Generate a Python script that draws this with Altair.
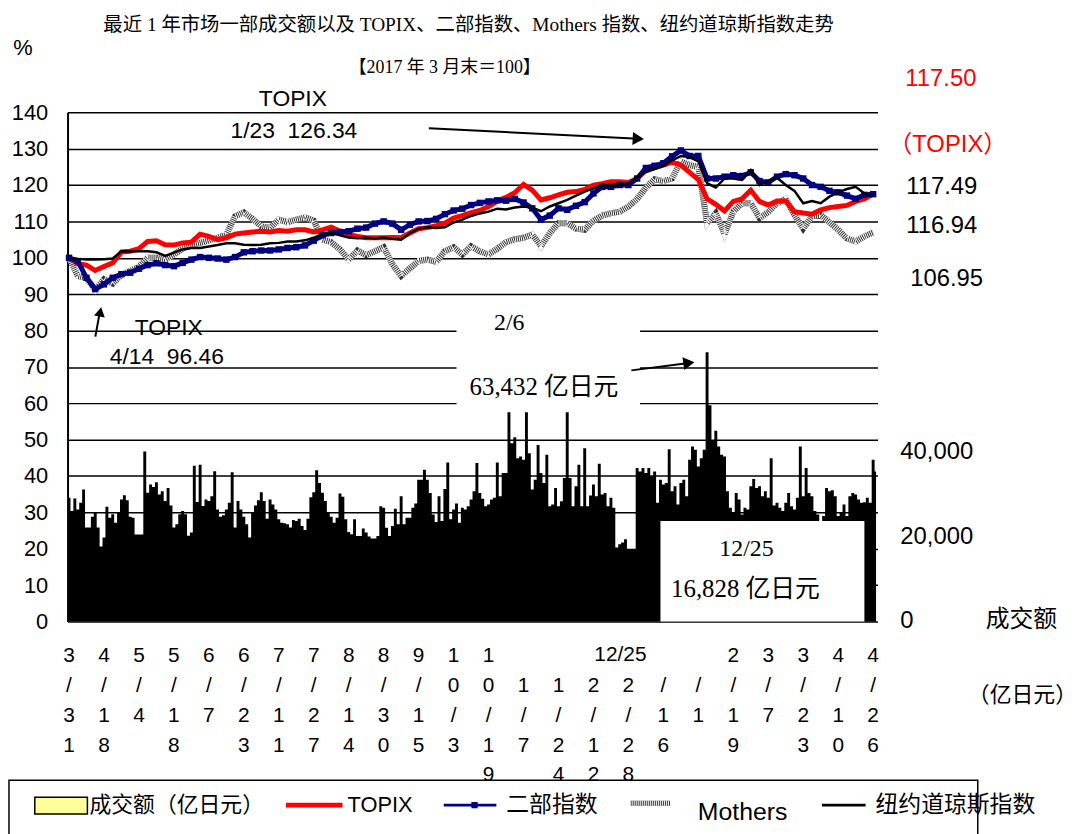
import altair as alt
import pandas as pd

# ---------------- data ----------------
# daily turnover of TSE 1st section (亿日元), one value per trading day
volume_part1 = [29150, 26030, 29000, 26420, 27980, 31100, 22130, 22130, 24700, 25800,
                22130, 17680, 19790, 27040, 24470, 25250, 23300, 25640, 28760, 29770,
                28600, 24700, 24470, 20490, 20490, 20490, 40070, 30320, 32270, 31720,
                32820, 29930, 30710, 28370, 31490, 27360, 22130, 22910, 25250, 26030,
                25250, 20180, 20960, 36720, 28140, 36950, 27200, 28760, 28370, 29540,
                35390, 26420, 24700, 25020, 26420, 27980, 35160, 22130, 28370, 26420,
                24700, 22910, 19790, 25640, 27360, 28600, 30480, 28370, 24240, 28760,
                27590, 26420, 24080, 23300, 23140, 22910, 22130, 23920, 23690, 24240,
                22520, 21580, 24240, 29300, 30480, 35620, 32660, 30320, 28370, 25640,
                24700, 23300]
volume_part2 = [24460, 30160, 29380, 24070, 21110, 20560, 24070, 20170, 20170, 21890,
                20950, 20010, 19550, 19550, 20170, 27190, 26800, 22120, 20170, 22510,
                26570, 22900, 29530, 22900, 24460, 24460, 26800, 27810, 33430, 33430,
                35770, 33430, 30310, 25240, 23450, 29530, 23680, 31250, 37490, 24070,
                26410, 27810, 23290, 26800, 26410, 27190, 28750, 30700, 37330, 30310,
                28910, 27190, 27580, 28750, 29140, 37490, 29530, 34990, 34990, 49420,
                42010, 43410, 38500, 38890, 38110, 49420, 39670, 31090, 33430, 41620,
                34990, 32650, 39280, 27190, 27580, 31480, 27190, 28360, 33820, 49420,
                33820, 27190, 31870, 36940, 27190, 40840, 27190, 29690, 32260, 29530,
                37170, 29920]
volume_part3 = [30310, 27190, 29140, 26800, 17440, 18220, 18610, 19390, 17050, 16830,
                17050, 36160, 35380, 36160, 34990, 36160, 34210, 35380, 27970, 33430,
                32260, 32650, 40610, 30700, 31870, 27580, 32650, 33430, 29530, 38110,
                41230, 40450, 36550, 38500, 40450, 63432, 50980, 42790, 44970, 41230,
                39280, 38890, 30700, 26800, 25630, 30310, 28750, 25240, 26800, 26410,
                31870, 33590, 31480, 31870, 29530, 30700, 29140, 38500, 27350, 27970,
                26800, 26020, 27970, 30310, 27190, 26410, 29140, 41230, 29530, 36160,
                30310, 29530, 26020, 25240, 22510, 24850, 31480, 30700, 30940, 29530,
                24850, 25630, 27580, 24850, 29530, 30310, 29920, 28750, 27970, 28130,
                29140, 27970, 38110, 35380]
volume = volume_part1 + volume_part2 + volume_part3
N = len(volume)

# index series (2017/3/31 = 100), one reading every LINE_STEP trading days
LINE_STEP = 3
topix = [100, 98.4, 98.0, 96.5, 97.6, 98.6, 101.6, 101.8, 102.5, 104.5, 104.7, 103.6, 103.5, 104.1, 104.3,
         106.5, 105.9, 105.0, 105.5, 106.5, 106.8, 107.1, 107.3, 107.1, 107.5, 107.3, 107.7, 107.7, 107.1,
         107.7, 108.4,
         107.3, 106.4, 105.9, 105.5, 105.5, 105.5, 105.6, 105.5, 106.8, 108.0, 108.3, 108.8, 109.5, 110.9,
         111.6, 112.4, 113.0, 114.1, 115.6, 116.6, 117.9, 120.2, 118.6, 115.9, 116.5, 117.3, 118.0, 118.2,
         118.8, 120.0, 120.4,
         120.9, 120.9, 120.7, 121.8, 124.0, 124.8, 125.5, 126.3, 125.5, 123.5, 121.5, 116.2, 114.7, 112.9,
         115.5, 116.2, 118.6, 115.5, 114.5, 115.6, 115.6, 112.7, 112.3, 112.0, 113.2, 113.8, 114.1, 114.4,
         115.5, 116.2, 117.50]
second = [100, 99.1, 94.5, 91.4, 92.7, 94.5, 95.5, 95.9, 97.0, 98.0, 98.5, 98.0, 97.7, 98.6, 99.5,
          100.2, 100.0, 99.8, 99.5, 100.2, 101.5, 101.8, 102.0, 102.0, 102.3, 102.7, 102.9, 103.4, 104.7,
          106.2, 106.8,
          107.1, 107.3, 108.0, 108.3, 109.4, 110.0, 109.4, 107.7, 109.1, 110.0, 110.1, 110.7, 112.0, 113.0,
          113.5, 114.5, 115.1, 115.5, 115.8, 115.7, 116.2, 115.2, 113.6, 110.5, 111.6, 113.6, 113.2, 114.3,
          115.3, 117.7, 119.5,
          119.5, 120.0, 120.0, 121.8, 124.7, 125.3, 126.0, 127.9, 129.5, 128.0, 128.0, 121.8, 121.8, 122.3,
          122.7, 122.5, 123.5, 121.1, 120.7, 122.3, 123.0, 122.7, 121.8, 120.0, 119.5, 118.4, 118.0, 117.1,
          116.2, 117.3, 117.49]
mothers = [100, 95.0, 94.4, 91.2, 94.1, 92.9, 95.3, 96.4, 97.5, 100.0, 100.0, 99.5, 100.9, 102.5, 103.5,
           104.1, 104.8, 105.5, 106.4, 111.4, 112.5, 110.7, 108.6, 108.2, 110.5, 109.8, 110.5, 111.1, 110.2,
           105.0, 104.3,
           102.3, 99.5, 102.0, 100.7, 101.8, 102.9, 98.2, 95.0, 97.1, 99.1, 99.5, 98.9, 101.8, 102.9,
           100.9, 103.2, 101.8, 100.9, 102.5, 104.3, 105.1, 105.5, 106.4, 103.2, 106.8, 109.5, 109.5, 108.0,
           107.7, 110.2, 111.6,
           112.3, 112.7, 114.1, 116.2, 119.3, 121.6, 121.1, 121.8, 126.4, 125.5, 125.0, 109.5, 112.3, 106.5,
           112.7, 115.0, 115.0, 110.9, 112.5, 115.0, 116.2, 111.8, 108.0, 111.4, 111.8, 109.8, 107.7, 105.3,
           104.5, 105.9, 106.95]
dow = [100, 99.7, 99.5, 99.5, 99.6, 99.8, 101.8, 101.7, 101.8, 101.8, 101.5, 100.5, 101.4, 102.3, 102.7,
       102.7, 103.1, 103.5, 104.0, 104.0, 103.6, 103.5, 103.6, 104.0, 104.1, 104.5, 104.5, 104.8, 105.5,
       106.4, 106.8,
       106.2, 105.6, 105.4, 105.5, 105.3, 105.6, 105.2, 105.0, 106.8, 108.0, 108.4, 108.2, 108.4, 109.7,
       110.5, 111.5, 112.2, 112.7, 113.5, 113.3, 113.8, 114.1, 113.8, 112.8, 114.1, 115.0, 115.9, 117.1,
       118.2, 119.1, 120.0,
       119.8, 120.0, 120.2, 122.3, 123.6, 124.4, 125.3, 126.8, 128.0, 127.7, 126.5, 120.5, 119.3, 121.8,
       121.8, 121.4, 124.1, 120.0, 121.1, 122.0, 120.0, 118.4, 115.0, 115.6, 115.0, 116.8, 118.0, 118.9,
       119.5, 117.7, 116.94]

# category-axis labels, one every TICK_EVERY trading days
TICK_EVERY = 12
tick_labels = ["3/31", "4/18", "5/4", "5/18", "6/7", "6/23", "7/11", "7/27", "8/14", "8/30",
               "9/15", "10/3", "10/19", "11/7", "11/24", "12/12", "12/28", "1/16", "2/1", "2/19",
               "3/7", "3/23", "4/10", "4/26"]
# labels whose first character is hidden under the "12/25" note box
tick_top_hidden = ["11/7", "11/24", "12/12", "12/28", "1/16", "2/1"]

# secondary (turnover) axis
VOL_MAX = 120000          # turnover at the top of the 0-140 index scale
vol_ticks = [0, 20000, 40000]

# ---------------- tables ----------------
UNIT = "datum.vol * 140 / %d" % VOL_MAX
vol_df = pd.DataFrame({"idx": list(range(N)), "vol": volume})


def series_df(vals):
    return pd.DataFrame({"idx": [i * LINE_STEP for i in range(len(vals))], "value": vals})


def vertical(t):
    chars = list(t)
    if t in tick_top_hidden:
        chars[0] = " "
    return "\n".join(chars)


tick_df = pd.DataFrame({"idx": [i * TICK_EVERY for i in range(len(tick_labels))],
                        "vt": [vertical(t) for t in tick_labels]})
voltick_df = pd.DataFrame({"vol": vol_ticks})
ONE = pd.DataFrame({"k": [0]})

SANS = "Liberation Sans, Arial, sans-serif"
CJK = "Noto Sans CJK SC, sans-serif"
SERIF = "Liberation Serif, Noto Sans CJK SC, serif"
NAVY = "#000080"
RED = "#FF0000"
NB = "\u00a0"

XSCALE = alt.Scale(domain=[-0.5, N - 0.5], nice=False, zero=False)
YSCALE = alt.Scale(domain=[0, 140], nice=False, zero=True)

left_axis = alt.Axis(orient="left", values=list(range(0, 150, 10)), grid=True, gridColor="black",
                     gridWidth=1.5, gridOpacity=1, domain=True, domainColor="black", domainWidth=2,
                     ticks=False, labelFont=SANS, labelFontSize=22, labelColor="black",
                     labelPadding=20, title=None)


def X(field):
    return alt.X(field, type="quantitative", scale=XSCALE, axis=None)


def Y(field):
    return alt.Y(field, type="quantitative", scale=YSCALE, axis=left_axis)


# ---------------- marks ----------------
# daily turnover bars drawn as one stepped silhouette (no seams between adjacent bars)
bars = alt.Chart(vol_df).transform_calculate(
    u=UNIT, base="0"
).mark_area(color="black", interpolate="step", opacity=1).encode(
    x=X("idx"), y=Y("u"), y2="base:Q"
)

vol_axis = alt.Chart(voltick_df).transform_calculate(
    u=UNIT, lab="format(datum.vol, ',')"
).mark_text(align="left", baseline="middle", font=SANS, fontSize=24, color="black").encode(
    x=alt.value(839), y=Y("u"), text="lab:N")


def white_box(x0, x1, y0, y1):
    d = pd.DataFrame({"a": [x0], "b": [x1], "c": [y0], "e": [y1]})
    return alt.Chart(d).mark_rect(color="white").encode(
        x=X("a"), x2="b:Q", y=Y("c"), y2="e:Q")


box_feb = white_box(133, 196, 57.5, 85)
box_dec = white_box(203, 273, 0, 27.6)

mothers_base = alt.Chart(series_df(mothers)).mark_line(color="#333333", strokeWidth=6).encode(
    x=X("idx"), y=Y("value"))
mothers_dash = alt.Chart(series_df(mothers)).mark_line(
    color="#ffffff", strokeWidth=6, strokeDash=[1, 1]).encode(x=X("idx"), y=Y("value"))
topix_line = alt.Chart(series_df(topix)).mark_line(color=RED, strokeWidth=5).encode(
    x=X("idx"), y=Y("value"))
second_line = alt.Chart(series_df(second)).mark_line(color=NAVY, strokeWidth=5).encode(
    x=X("idx"), y=Y("value"))
second_pts = alt.Chart(series_df(second)).mark_point(
    shape="square", filled=True, size=42, color=NAVY, opacity=1).encode(x=X("idx"), y=Y("value"))
dow_line = alt.Chart(series_df(dow)).mark_line(color="black", strokeWidth=2.5).encode(
    x=X("idx"), y=Y("value"))

# category labels, written vertically
tick_text = alt.Chart(tick_df).mark_text(
    lineBreak="\n", baseline="top", align="center", font=SANS, fontSize=21, lineHeight=30,
    color="black").encode(x=X("idx"), y=alt.value(537), text="vt:N")


def note(text, x, y, size, color="black", font=SANS, align="center", baseline="middle"):
    return alt.Chart(ONE).mark_text(text=text, fontSize=size, color=color, font=font,
                                    align=align, baseline=baseline).encode(
        x=alt.value(x), y=alt.value(y))


def rule(x1, y1, x2, y2, color="black", width=2, dash=None):
    kw = dict(color=color, strokeWidth=width)
    if dash is not None:
        kw["strokeDash"] = dash
    return alt.Chart(ONE).mark_rule(**kw).encode(
        x=alt.value(x1), y=alt.value(y1), x2=alt.value(x2), y2=alt.value(y2))


def head(x, y, shape, angle, size=170):
    return alt.Chart(ONE).mark_point(shape=shape, filled=True, size=size, color="black",
                                     opacity=1, angle=angle).encode(x=alt.value(x), y=alt.value(y))


texts = [
    note("最近 1 年市场一部成交额以及 TOPIX、二部指数、Mothers 指数、纽约道琼斯指数走势", 404, -88, 19.5, font=SERIF),
    note("【2017 年 3 月末＝100】", 380, -45, 18, font=SERIF),
    note("%", -45, -65, 22),
    note("TOPIX", 227, -13, 23),
    note("1/23" + NB * 2 + "126.34", 228, 19, 23),
    note("117.50", 844, -33, 24, color=RED, align="left"),
    note("（TOPIX）", 827, 33, 24, color=RED, align="left", font=SANS + ", " + CJK),
    note("117.49", 845, 75, 24, align="left"),
    note("116.94", 845, 115, 24, align="left"),
    note("106.95", 849, 168, 24, align="left"),
    note("TOPIX", 102, 217, 23),
    note("4/14" + NB * 2 + "96.46", 100, 247, 23),
    note("2/6", 445, 212, 24, font=SERIF),
    note("63,432 亿日元", 480, 277, 25, font=SERIF),
    note("12/25", 684, 440, 24, font=SERIF),
    note("16,828 亿日元", 683, 480, 25, font=SERIF),
    note("12/25", 557, 547, 21),
    note("成交额", 925, 512, 24, align="left", font=CJK),
    note("（亿日元）", 907, 587, 22, align="left", font=CJK),
]

arrows = [
    rule(364, 16, 570, 26.4, width=2),
    head(575, 26.7, "triangle-right", 3),
    rule(568, 260, 622, 253, width=2),
    head(626, 252.5, "triangle-right", 352),
    rule(28, 226, 32, 204, width=2),
    head(33, 201, "triangle-up", 11, size=120),
]

legend = [
    alt.Chart(ONE).mark_rect(fillOpacity=0, stroke="black", strokeWidth=1.5).encode(
        x=alt.value(-59), x2=alt.value(917), y=alt.value(673), y2=alt.value(740)),
    alt.Chart(ONE).mark_rect(fill="#FFFF99", stroke="black", strokeWidth=1.5).encode(
        x=alt.value(-33), x2=alt.value(20), y=alt.value(690), y2=alt.value(707)),
    note("成交额（亿日元）", 22, 698, 22, align="left", font=CJK),
    rule(220, 698, 277, 698, color=RED, width=5),
    note("TOPIX", 282, 698, 22, align="left"),
    rule(379, 698, 432, 698, color=NAVY, width=3),
    alt.Chart(ONE).mark_point(shape="square", filled=True, size=40, color=NAVY, opacity=1).encode(
        x=alt.value(410), y=alt.value(698)),
    note("二部指数", 442, 698, 23, align="left", font=CJK),
    rule(567, 696, 607, 696, color="#333333", width=5),
    rule(567, 696, 607, 696, color="#ffffff", width=5, dash=[1, 1]),
    note("Mothers", 635, 705, 25, align="left"),
    rule(760, 698, 804, 698, color="black", width=3),
    note("纽约道琼斯指数", 814, 698, 23, align="left", font=CJK),
]

chart = alt.layer(
    bars, vol_axis, box_feb, box_dec,
    mothers_base, mothers_dash, topix_line, second_line, second_pts, dow_line,
    tick_text, *texts, *arrows, *legend
).properties(
    width=816, height=513,
    autosize=alt.AutoSizeParams(type="none"),
    padding={"left": 60, "top": 102, "right": 204, "bottom": 211},
    background="white",
).configure_view(strokeWidth=0)

chart.save("out.html", embed_options={"renderer": "svg", "actions": False})
